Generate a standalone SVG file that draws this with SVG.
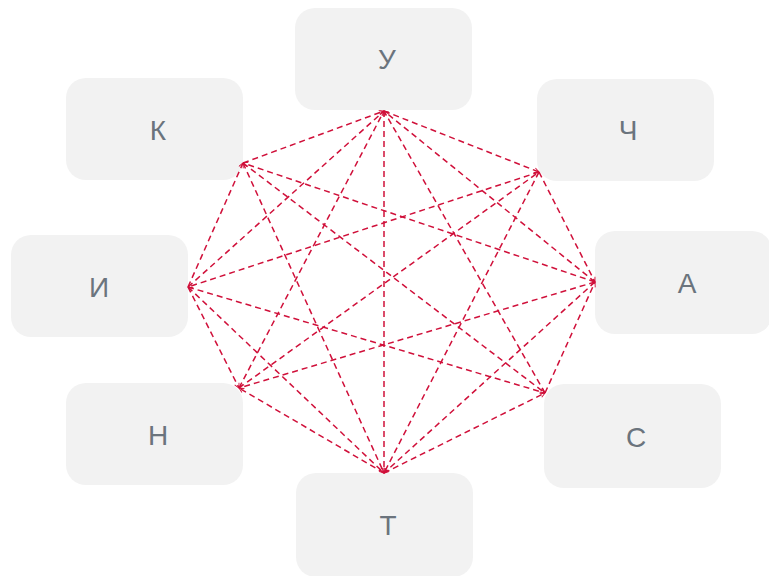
<svg xmlns="http://www.w3.org/2000/svg" width="769" height="576" viewBox="0 0 769 576">
<style>
.n{fill:#f2f2f2}
.t{font-family:"Liberation Sans",Arial,sans-serif;font-size:28px;fill:#6b747d;text-anchor:middle}
.e line{stroke:#d0103a;stroke-width:1.5;stroke-dasharray:6 4;fill:none;marker-end:url(#a)}
</style>
<defs>
<marker id="a" viewBox="0 0 10 10" refX="9" refY="5" markerWidth="6" markerHeight="6" markerUnits="userSpaceOnUse" orient="auto">
<path d="M1,1 L9,5 L1,9" fill="none" stroke="#d0103a" stroke-width="1.5"/>
</marker>
</defs>
<rect width="769" height="576" fill="#fff"/>
<g id="node-u"><rect class="n" x="295" y="8" width="177" height="102" rx="20"/><text class="t" x="387" y="69">У</text></g>
<g id="node-ch"><rect class="n" x="537" y="79" width="177" height="102" rx="20"/><text class="t" x="628" y="140">Ч</text></g>
<g id="node-a"><rect class="n" x="595" y="231" width="177" height="103" rx="20"/><text class="t" x="687" y="293">А</text></g>
<g id="node-s"><rect class="n" x="544" y="384" width="177" height="104" rx="20"/><text class="t" x="636" y="447">С</text></g>
<g id="node-t"><rect class="n" x="296" y="473" width="177" height="104" rx="20"/><text class="t" x="388" y="535">Т</text></g>
<g id="node-n"><rect class="n" x="66" y="383" width="177" height="102" rx="20"/><text class="t" x="158" y="445">Н</text></g>
<g id="node-i"><rect class="n" x="11" y="235" width="177" height="102" rx="20"/><text class="t" x="99" y="297">И</text></g>
<g id="node-k"><rect class="n" x="66" y="78" width="177" height="102" rx="20"/><text class="t" x="158" y="140">К</text></g>
<g id="connectors" class="e">
<line x1="243" y1="163" x2="384" y2="111"/>
<line x1="384" y1="111" x2="539" y2="172"/>
<line x1="595" y1="282" x2="384" y2="111"/>
<line x1="545" y1="393" x2="384" y2="111"/>
<line x1="384" y1="111" x2="384" y2="473"/>
<line x1="239" y1="388" x2="384" y2="111"/>
<line x1="188" y1="287" x2="384" y2="111"/>
<line x1="539" y1="172" x2="595" y2="282"/>
<line x1="539" y1="172" x2="384" y2="473"/>
<line x1="239" y1="388" x2="539" y2="172"/>
<line x1="539" y1="172" x2="188" y2="287"/>
<line x1="545" y1="393" x2="595" y2="282"/>
<line x1="595" y1="282" x2="384" y2="473"/>
<line x1="595" y1="282" x2="239" y2="388"/>
<line x1="595" y1="282" x2="243" y2="163"/>
<line x1="384" y1="473" x2="545" y2="393"/>
<line x1="188" y1="287" x2="545" y2="393"/>
<line x1="243" y1="163" x2="545" y2="393"/>
<line x1="243" y1="163" x2="384" y2="473"/>
<line x1="188" y1="287" x2="384" y2="473"/>
<line x1="384" y1="473" x2="239" y2="388"/>
<line x1="188" y1="287" x2="239" y2="388"/>
<line x1="188" y1="287" x2="243" y2="163"/>
</g>
</svg>
